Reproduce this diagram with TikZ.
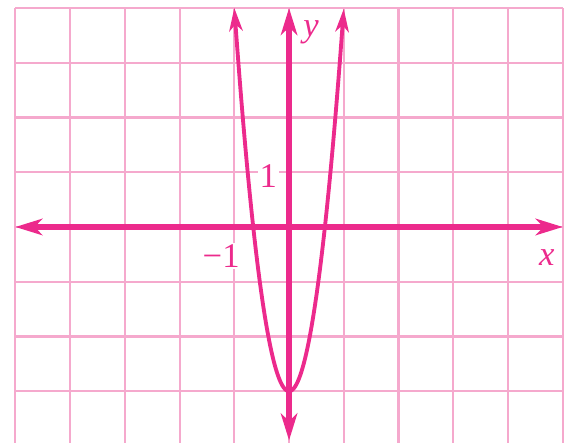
\documentclass[tikz,border=0pt]{standalone}
\usepackage{fontspec}
\setmainfont{Liberation Serif}
\usetikzlibrary{arrows.meta}
\usepackage{xcolor}
\definecolor{hotpink}{HTML}{EC2A8C}
\definecolor{gridpink}{HTML}{F5A9CD}

\begin{document}
\begin{tikzpicture}[
  gridline/.style={line width=1.1pt,color=gridpink},
  axisline/.style={line width=3.2pt,color=hotpink,{Stealth[length=14pt,width=8.5pt,inset=4pt]}-{Stealth[length=14pt,width=8.5pt,inset=4pt]}},
  curveline/.style={line width=2pt,color=hotpink,{Stealth[length=12pt,width=7pt,inset=3.5pt]}-{Stealth[length=12pt,width=7pt,inset=3.5pt]}},
  ticklabel/.style={fill=white,inner sep=1pt,text=hotpink,font=\fontsize{18}{20}\selectfont}]
\useasboundingbox (-5.28,-3.945) rectangle (5.15,4.146);
% grid
\foreach \i in {-5,...,5}{
\draw[gridline] (\i,-3.945) -- (\i,4);}
\foreach \j in {-3,...,4}{
\draw[gridline] (-5,\j) -- (5,\j);}
% axes
\coordinate (xl) at (-5,0);
\coordinate (xr) at (5,0);
\coordinate (yb) at (0,-3.9);
\coordinate (yt) at (0,4);
\draw[axisline] (xl) -- (xr);
\draw[axisline] (yb) -- (yt);
% labels
\node[ticklabel] (one) at (-0.38,0.93) {1};
\node[ticklabel] (minusone) at (-1.24,-0.53) {\textminus1};
\node[ticklabel,fill=none] (ylab) at (0.4,3.56) {\textit{y}};
\node[ticklabel,fill=none] (xlab) at (4.71,-0.55) {\textit{x}};
% parabola
\draw[curveline] plot[domain=-1:1,samples=101] (\x,{7*\x*\x-3});
\end{tikzpicture}
\end{document}
